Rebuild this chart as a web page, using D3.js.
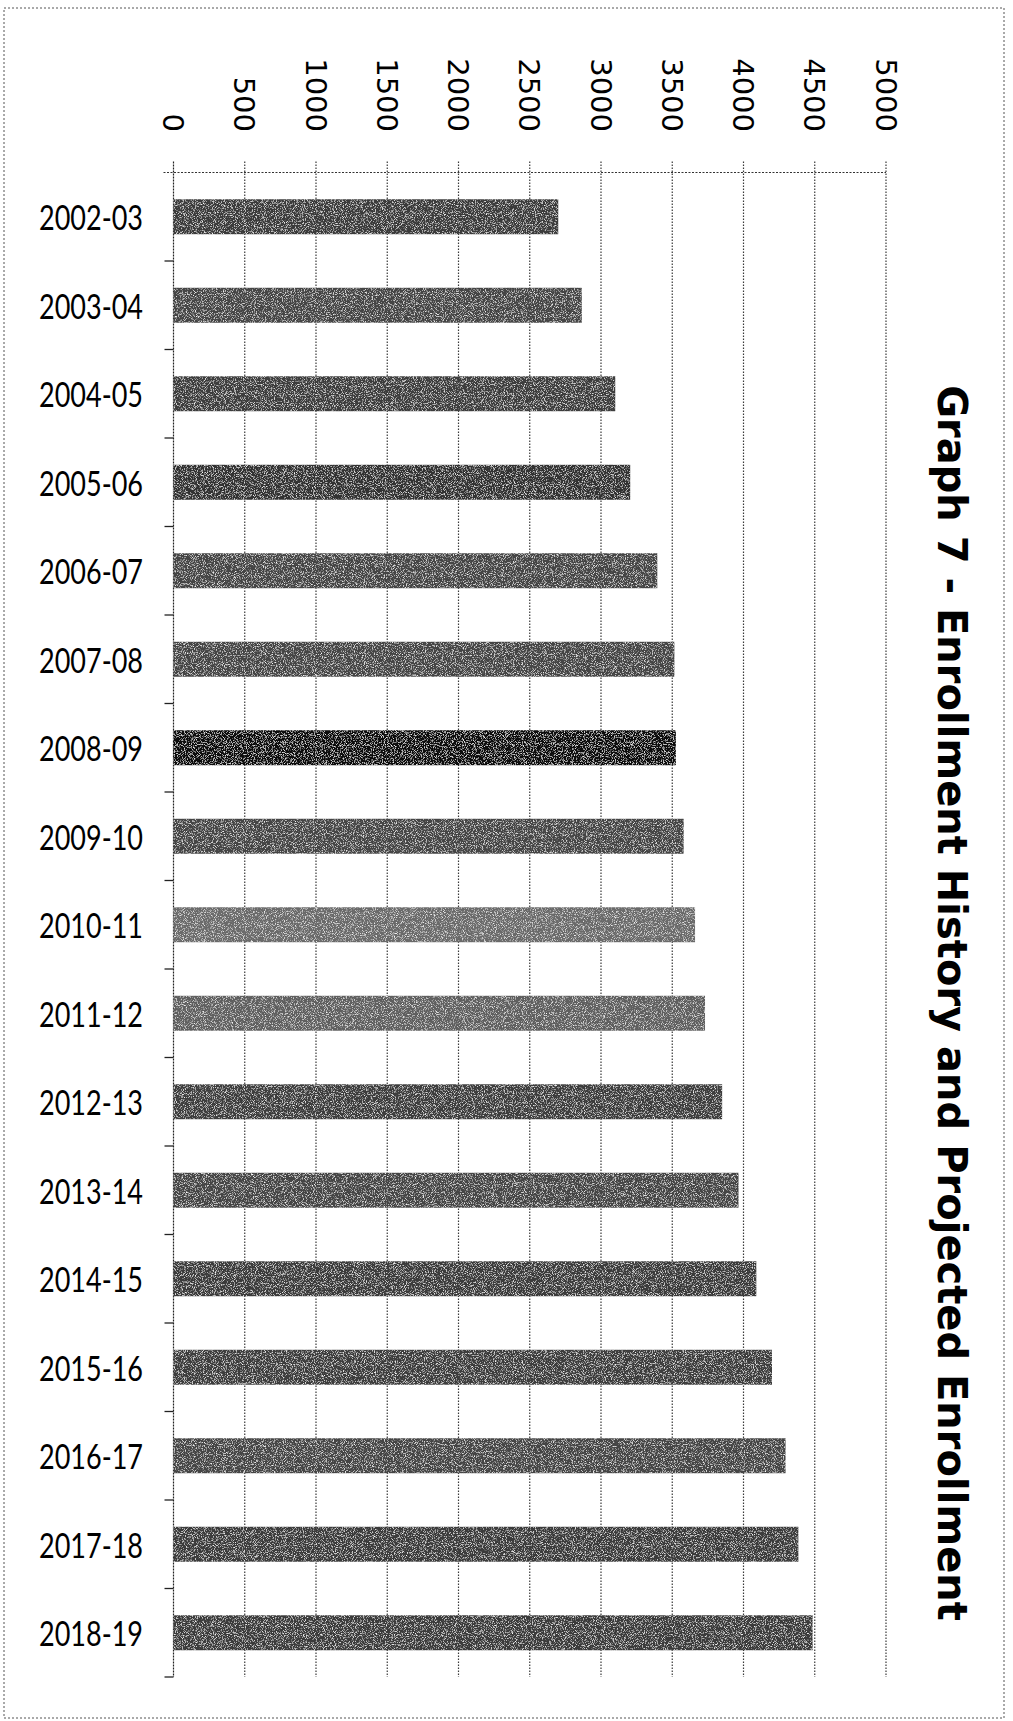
<!DOCTYPE html>
<html>
<head>
<meta charset="utf-8">
<script src="https://cdn.jsdelivr.net/npm/d3@7"></script>
<style>
  html, body { margin: 0; padding: 0; background: #fff; }
  svg { display: block; }
</style>
</head>
<body>
<svg id="chart" width="1013" height="1721"></svg>
<script>
// ---- data ----
const title = "Graph 7 - Enrollment History and Projected Enrollment";
const categories = ["2002-03","2003-04","2004-05","2005-06","2006-07","2007-08","2008-09","2009-10",
  "2010-11","2011-12","2012-13","2013-14","2014-15","2015-16","2016-17","2017-18","2018-19"];
const enrollment = [2700, 2865, 3100, 3205, 3395, 3515, 3525, 3580,
  3660, 3730, 3850, 3965, 4090, 4200, 4295, 4385, 4485];
const tickValues = [0, 500, 1000, 1500, 2000, 2500, 3000, 3500, 4000, 4500, 5000];
// scan shade of each bar
const barShades = ["#3a3a3a","#444444","#3e3e3e","#303030","#444444","#444444","#080808","#444444",
  "#6a6a6a","#5e5e5e","#3e3e3e","#444444","#3a3a3a","#3e3e3e","#444444","#3a3a3a","#3a3a3a"];

// ---- layout ----
const svg = d3.select("#chart");
const plot = { left: 173.5, right: 886, top: 172.5, bottom: 1677 };

const x = d3.scaleLinear().domain([0, 5000]).range([plot.left, plot.right]);
const y = d3.scaleBand().domain(categories).range([plot.top, plot.bottom])
  .paddingInner(0.605).paddingOuter(0.3025);

// halftone-like grain for the scanned bars
const defs = svg.append("defs");
const f = defs.append("filter").attr("id", "grain")
  .attr("x", 0).attr("y", 0).attr("width", "100%").attr("height", "100%");
f.append("feTurbulence").attr("type", "fractalNoise").attr("baseFrequency", 1.1)
  .attr("numOctaves", 2).attr("seed", 7).attr("result", "noise");
f.append("feColorMatrix").attr("in", "noise").attr("type", "matrix")
  .attr("values", "0 0 0 0 1  0 0 0 0 1  0 0 0 0 1  0 0 0 -2.6 1.28")
  .attr("result", "speck");
f.append("feComposite").attr("in", "speck").attr("in2", "SourceGraphic")
  .attr("operator", "in").attr("result", "speckIn");
const merge = f.append("feMerge");
merge.append("feMergeNode").attr("in", "SourceGraphic");
merge.append("feMergeNode").attr("in", "speckIn");

// page border of the scan
svg.append("rect")
  .attr("x", 4).attr("y", 8).attr("width", 1000).attr("height", 1710)
  .attr("fill", "none").attr("stroke", "#555").attr("stroke-width", 1)
  .attr("stroke-dasharray", "2,2");

// gridlines (dotted, with small ticks above the top frame)
svg.append("g").selectAll("line").data(tickValues).join("line")
  .attr("x1", d => x(d)).attr("x2", d => x(d))
  .attr("y1", plot.top - 11).attr("y2", plot.bottom)
  .attr("stroke", d => d === 0 ? "#222" : "#3a3a3a")
  .attr("stroke-width", 1.2)
  .attr("stroke-dasharray", d => d === 0 ? "2,1" : "1.5,1.5");

// top frame line
svg.append("line")
  .attr("x1", plot.left - 10).attr("x2", plot.right)
  .attr("y1", plot.top).attr("y2", plot.top)
  .attr("stroke", "#333").attr("stroke-width", 1.2).attr("stroke-dasharray", "2,1.5");

// small ticks on the category axis at band boundaries
const boundaries = d3.range(1, categories.length + 1).map(i => plot.top + i * y.step());
svg.append("g").selectAll("line").data(boundaries).join("line")
  .attr("x1", plot.left - 9).attr("x2", plot.left)
  .attr("y1", d => d).attr("y2", d => d)
  .attr("stroke", "#222").attr("stroke-width", 1.3);

// bars
svg.append("g").selectAll("rect").data(categories).join("rect")
  .attr("x", x(0))
  .attr("y", d => y(d))
  .attr("width", (d, i) => x(enrollment[i]) - x(0))
  .attr("height", y.bandwidth())
  .attr("fill", (d, i) => barShades[i])
  .attr("filter", "url(#grain)");

// category labels
svg.append("g").selectAll("text").data(categories).join("text")
  .attr("x", 143)
  .attr("y", d => y(d) + y.bandwidth() / 2 + 1)
  .attr("dy", "0.36em")
  .attr("text-anchor", "end")
  .attr("font-family", "Lato, 'Open Sans', sans-serif")
  .attr("font-size", 35)
  .attr("textLength", 104)
  .attr("lengthAdjust", "spacingAndGlyphs")
  .attr("fill", "#000")
  .text(d => d);

// value tick labels (rotated, reading top to bottom)
svg.append("g").selectAll("text").data(tickValues).join("text")
  .attr("transform", d => `translate(${x(d)},132) rotate(90)`)
  .attr("dy", "0.36em")
  .attr("text-anchor", "end")
  .attr("font-family", "'DejaVu Sans', sans-serif")
  .attr("font-size", 29)
  .attr("fill", "#000")
  .text(d => d);

// title (rotated)
svg.append("text")
  .attr("transform", "translate(938,1003) rotate(90)")
  .attr("text-anchor", "middle")
  .attr("font-family", "'DejaVu Sans', sans-serif")
  .attr("font-weight", "bold")
  .attr("font-size", 40)
  .attr("fill", "#000")
  .text(title);
</script>
</body>
</html>
